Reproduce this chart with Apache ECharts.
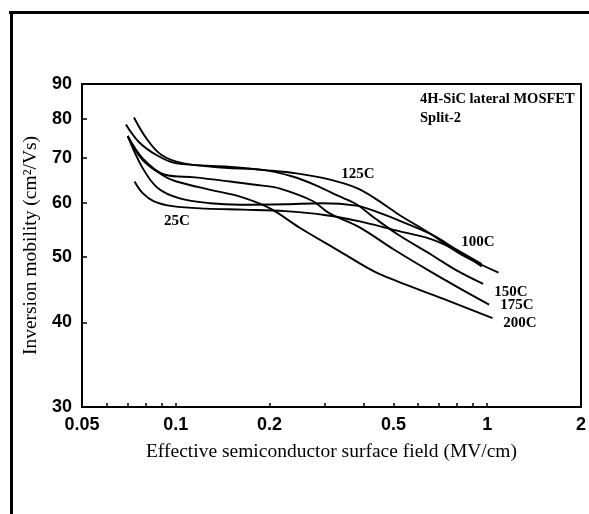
<!DOCTYPE html>
<html>
<head>
<meta charset="utf-8">
<script src="https://cdn.jsdelivr.net/npm/echarts@6/dist/echarts.min.js"></script>
<style>
  html, body { margin: 0; padding: 0; background: #ffffff; }
  #chart { width: 589px; height: 514px; }
</style>
</head>
<body>
<div id="chart"></div>
<script>
// Axis ticks and labels (log-log plot)
const xTickLabels = [0.05, 0.1, 0.2, 0.5, 1, 2];
const xTickMarks = [0.06, 0.07, 0.08, 0.09, 0.1, 0.2, 0.3, 0.4, 0.5, 0.6, 0.7, 0.8, 0.9, 1];
const yTickLabels = [30, 40, 50, 60, 70, 80, 90];
const yTickMarks = [40, 50, 60, 70, 80];

// Effective surface field (MV/cm) and inversion mobility (cm2/Vs) per temperature
const field25 = [0.0737, 0.0783, 0.0851, 0.0977, 0.125, 0.165, 0.224, 0.304, 0.39, 0.5, 0.66, 0.8, 0.96];
const mob25   = [64.6, 62.1, 60.4, 59.4, 58.9, 58.7, 58.4, 57.6, 56.4, 54.8, 53.1, 51.0, 48.4];

const field100 = [0.0701, 0.0783, 0.0875, 0.103, 0.129, 0.161, 0.224, 0.295, 0.38, 0.436, 0.515, 0.66, 0.8, 0.96];
const mob100   = [75.4, 67.6, 63.2, 61.0, 60.0, 59.7, 59.8, 60.0, 59.5, 58.4, 56.7, 54.0, 51.2, 48.8];

const field125 = [0.0692, 0.0761, 0.0875, 0.1005, 0.144, 0.19, 0.244, 0.313, 0.38, 0.436, 0.515, 0.66, 0.824, 1.087];
const mob125   = [78.4, 73.9, 70.5, 68.7, 68.0, 67.2, 66.4, 65.0, 63.2, 61.0, 57.9, 54.0, 50.4, 47.4];

const field150 = [0.0734, 0.0805, 0.09, 0.106, 0.144, 0.19, 0.237, 0.288, 0.33, 0.38, 0.436, 0.515, 0.66, 0.8, 0.97];
const mob150   = [80.3, 74.8, 70.7, 68.7, 67.7, 67.2, 65.7, 63.5, 61.6, 59.8, 57.0, 54.0, 50.4, 47.7, 45.6];

const field175 = [0.0701, 0.0783, 0.0924, 0.115, 0.149, 0.19, 0.215, 0.274, 0.311, 0.388, 0.5, 0.66, 0.824, 1.014];
const mob175   = [75.4, 69.9, 66.1, 65.5, 64.6, 63.7, 63.1, 60.5, 58.0, 55.3, 51.3, 47.5, 44.8, 42.5];

const field200 = [0.0701, 0.0783, 0.0922, 0.1005, 0.129, 0.16, 0.2, 0.25, 0.33, 0.436, 0.515, 0.717, 1.04];
const mob200   = [75.4, 69.5, 65.7, 64.6, 62.8, 61.4, 59.0, 55.2, 51.2, 47.5, 46.0, 43.4, 40.6];

const curveNames = ['25C', '100C', '125C', '150C', '175C', '200C'];
const curveFields = [field25, field100, field125, field150, field175, field200];
const curveMobilities = [mob25, mob100, mob125, mob150, mob175, mob200];

const fmtNum = v => String(+(+v).toPrecision(3));

const chart = echarts.init(document.getElementById('chart'), null, { renderer: 'canvas' });

const series = curveNames.map((name, i) => ({
  name,
  type: 'line',
  smooth: 0.35,
  showSymbol: false,
  symbol: 'none',
  lineStyle: { color: '#000', width: 1.9 },
  data: curveFields[i].map((x, k) => [x, curveMobilities[i][k]]),
  silent: true,
  z: 3
}));

const labelFont = 'bold 15px "Liberation Serif", serif';
const curveLabel = (text, x, y) => ({
  type: 'text', x, y,
  style: { text, font: labelFont, fill: '#000', align: 'center', verticalAlign: 'middle' }
});

chart.setOption({
  animation: false,
  backgroundColor: '#fff',
  grid: {
    left: 82, top: 84, right: 7, bottom: 107,
    show: true, borderColor: '#000', borderWidth: 2, backgroundColor: 'transparent'
  },
  xAxis: {
    type: 'log', logBase: 10, min: 0.05, max: 2,
    axisLine: { show: true, lineStyle: { color: '#000', width: 2 } },
    axisTick: { show: true, inside: true, length: 4, customValues: xTickMarks, lineStyle: { color: '#000', width: 1.5 } },
    minorTick: { show: false },
    splitLine: { show: false },
    axisLabel: {
      customValues: xTickLabels, formatter: fmtNum, margin: 9,
      color: '#000', fontFamily: '"Liberation Sans", Arial, sans-serif', fontWeight: 'bold', fontSize: 18,
      showMinLabel: true, showMaxLabel: true
    },
    name: 'Effective semiconductor surface field (MV/cm)',
    nameLocation: 'middle', nameGap: 35,
    nameTextStyle: { color: '#000', fontFamily: '"Liberation Serif", serif', fontSize: 19.5 }
  },
  yAxis: {
    type: 'log', logBase: 10, min: 30, max: 90,
    axisLine: { show: true, lineStyle: { color: '#000', width: 2 } },
    axisTick: { show: true, inside: true, length: 5, customValues: yTickMarks, lineStyle: { color: '#000', width: 1.5 } },
    minorTick: { show: false },
    splitLine: { show: false },
    axisLabel: {
      customValues: yTickLabels, formatter: fmtNum, margin: 10,
      color: '#000', fontFamily: '"Liberation Sans", Arial, sans-serif', fontWeight: 'bold', fontSize: 18,
      showMinLabel: true, showMaxLabel: true
    },
    name: 'Inversion mobility (cm\u00B2/Vs)',
    nameLocation: 'middle', nameGap: 34, nameRotate: 90,
    nameTextStyle: { color: '#000', fontFamily: '"Liberation Serif", serif', fontSize: 19.5 }
  },
  series,
  graphic: [
    // page frame (top and left edges)
    { type: 'line', shape: { x1: 9, y1: 12.5, x2: 589, y2: 12.5 }, style: { stroke: '#000', lineWidth: 3 } },
    { type: 'line', shape: { x1: 11.5, y1: 11, x2: 11.5, y2: 514 }, style: { stroke: '#000', lineWidth: 3 } },
    // sample annotation
    { type: 'text', x: 420, y: 99, style: { text: '4H-SiC lateral MOSFET', font: 'bold 14.5px "Liberation Serif", serif', fill: '#000', verticalAlign: 'middle' } },
    { type: 'text', x: 420, y: 118, style: { text: 'Split-2', font: 'bold 14.5px "Liberation Serif", serif', fill: '#000', verticalAlign: 'middle' } },
    // temperature labels
    curveLabel('25C', 177, 221),
    curveLabel('125C', 358, 174),
    curveLabel('100C', 478, 242),
    curveLabel('150C', 511, 292),
    curveLabel('175C', 517, 305),
    curveLabel('200C', 520, 323)
  ]
});
</script>
</body>
</html>
